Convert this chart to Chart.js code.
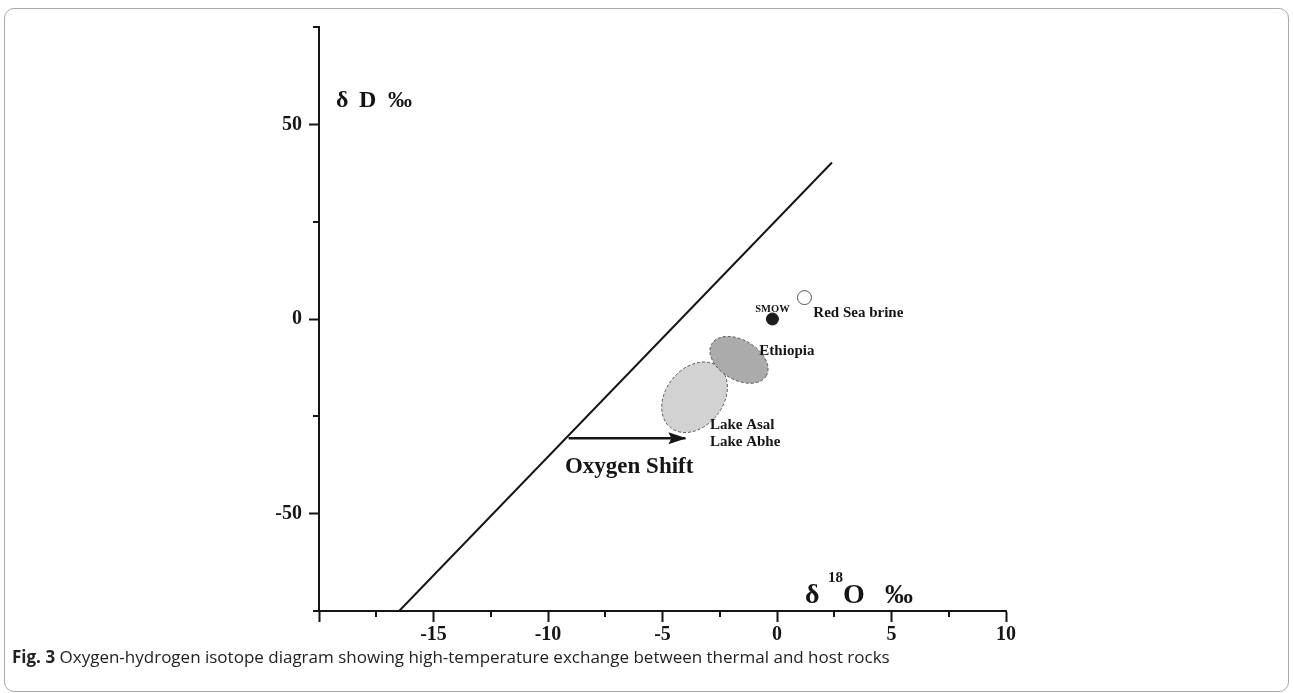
<!DOCTYPE html>
<html><head><meta charset="utf-8">
<script src="https://cdn.jsdelivr.net/npm/chart.js@4.4.0/dist/chart.umd.min.js"></script>
<style>
html,body{margin:0;padding:0;background:#fff;width:1293px;height:693px;overflow:hidden;}
#frame{position:absolute;left:4px;top:8px;width:1285px;height:684px;border:1px solid #a9a9a9;border-radius:10px;box-sizing:border-box;}
#c{position:absolute;left:0;top:0;}
#cap{position:absolute;left:12px;top:645px;font-family:'Open Sans';font-size:17px;color:#222;white-space:nowrap;}
#cap b{font-weight:700;}
</style></head><body>
<div id="frame"></div>
<canvas id="c" width="1293" height="693"></canvas>
<div id="cap"><b>Fig. 3</b> Oxygen-hydrogen isotope diagram showing high-temperature exchange between thermal and host rocks</div>
<script>
// ---- data ----
const xMajorTicks = [-20, -15, -10, -5, 0, 5, 10];
const xLabelTicks = [-15, -10, -5, 0, 5, 10];
const xMinorTicks = [-17.5, -12.5, -7.5, -2.5, 2.5, 7.5];
const yMajorTicks = [-50, 0, 50];
const yLabelTicks = [-50, 0, 50];
const yMinorTicks = [-75, -25, 25, 75];

const lineX = [-16.5, 2.4];
const lineY = [-75, 40.2];

const arrowX = [-9.1, -4.0];
const arrowY = [-30.6, -30.6];

const pointNames = ['SMOW', 'Red Sea brine'];
const pointX = [-0.2, 1.2];
const pointY = [0, 5.5];

const ellipseNames = ['Lake Asal / Lake Abhe', 'Ethiopia'];
const ellipseCX = [-3.6, -1.66];
const ellipseCY = [-20.1, -10.5];
const ellipseTipX = [-2.56, -0.47];
const ellipseTipY = [-12.25, -14.6];
const ellipseRatio = [0.74, 0.63];

const textLabels = ['SMOW', 'Red Sea brine', 'Ethiopia', 'Lake Asal', 'Lake Abhe', 'Oxygen Shift'];
const textX = [-0.2, 1.585, -0.77, -2.93, -2.93, -9.26];
const textY = [1.8, 0.64, -9.25, -28.26, -32.5, -39.5];

const SERIF = "'Liberation Serif', 'DejaVu Serif', serif";
const INK = '#151515';

const overlay = {
  id: 'overlay',
  beforeDatasetsDraw(chart) {
    const {ctx, scales: {x: xs, y: ys}} = chart;
    ctx.save();
    const fills = ['#d2d2d2', '#ababab'];
    ellipseCX.forEach((cx, i) => {
      const px = xs.getPixelForValue(cx), py = ys.getPixelForValue(ellipseCY[i]);
      const tx = xs.getPixelForValue(ellipseTipX[i]), ty = ys.getPixelForValue(ellipseTipY[i]);
      const a = Math.hypot(tx - px, ty - py), ang = Math.atan2(ty - py, tx - px);
      ctx.beginPath();
      ctx.ellipse(px, py, a, a * ellipseRatio[i], ang, 0, Math.PI * 2);
      ctx.fillStyle = fills[i];
      ctx.fill();
      ctx.setLineDash([3, 2]);
      ctx.lineWidth = 1;
      ctx.strokeStyle = '#555';
      ctx.stroke();
    });
    ctx.restore();
  },
  afterDatasetsDraw(chart) {
    const {ctx} = chart;
    const meta = chart.getDatasetMeta(1);
    const p0 = meta.data[0], p1 = meta.data[1];
    const ang = Math.atan2(p1.y - p0.y, p1.x - p0.x);
    ctx.save();
    ctx.translate(p1.x + 1, p1.y);
    ctx.rotate(ang);
    ctx.beginPath();
    ctx.moveTo(0, 0);
    ctx.lineTo(-18, -6);
    ctx.lineTo(-15, 0);
    ctx.lineTo(-18, 6);
    ctx.closePath();
    ctx.fillStyle = INK;
    ctx.fill();
    ctx.restore();
  },
  afterDraw(chart) {
    const {ctx, chartArea: ca, scales: {x: xs, y: ys}} = chart;
    ctx.save();
    ctx.strokeStyle = INK;
    ctx.lineWidth = 2;
    xMinorTicks.forEach(v => {
      const px = Math.round(xs.getPixelForValue(v));
      ctx.beginPath(); ctx.moveTo(px, ca.bottom); ctx.lineTo(px, ca.bottom + 6); ctx.stroke();
    });
    yMinorTicks.forEach(v => {
      const py = Math.round(ys.getPixelForValue(v));
      ctx.beginPath(); ctx.moveTo(ca.left, py); ctx.lineTo(ca.left - 6, py); ctx.stroke();
    });
    // annotation texts
    ctx.fillStyle = INK;
    ctx.textBaseline = 'alphabetic';
    textLabels.forEach((t, i) => {
      let size = 15, align = 'left';
      if (t === 'SMOW') { size = 10.5; align = 'center'; }
      if (t === 'Oxygen Shift') size = 23;
      ctx.font = `bold ${size}px ${SERIF}`;
      ctx.textAlign = align;
      ctx.fillText(t, xs.getPixelForValue(textX[i]), ys.getPixelForValue(textY[i]));
    });
    // axis titles
    ctx.textAlign = 'left';
    const dx = xs.getPixelForValue(-19.26), dy = ys.getPixelForValue(54.5);
    ctx.font = `bold 24px ${SERIF}`;
    ctx.fillText('δ', dx, dy);
    ctx.fillText('D', dx + 23, dy);
    ctx.fillText('‰', dx + 52, dy);
    const ox = xs.getPixelForValue(1.22), oy = ys.getPixelForValue(-72.95);
    ctx.font = `bold 28px ${SERIF}`;
    ctx.fillText('δ', ox, oy);
    ctx.fillText('O', ox + 38, oy);
    ctx.fillText('‰', ox + 80, oy);
    ctx.font = `bold 15px ${SERIF}`;
    ctx.fillText('18', ox + 23, oy - 21);
    ctx.restore();
  }
};

new Chart(document.getElementById('c'), {
  type: 'scatter',
  data: {
    datasets: [
      {label: 'line', showLine: true, data: lineX.map((x, i) => ({x, y: lineY[i]})), borderColor: INK, borderWidth: 2, pointRadius: 0, tension: 0},
      {label: 'Oxygen Shift', showLine: true, data: arrowX.map((x, i) => ({x, y: arrowY[i]})), borderColor: INK, borderWidth: 2.5, pointRadius: 0},
      {label: pointNames[0], data: [{x: pointX[0], y: pointY[0]}], pointRadius: 6, backgroundColor: '#1c1c1c', borderColor: '#1c1c1c', borderWidth: 1},
      {label: pointNames[1], data: [{x: pointX[1], y: pointY[1]}], pointRadius: 7, backgroundColor: '#ffffff', borderColor: '#555', borderWidth: 1}
    ]
  },
  options: {
    responsive: false,
    animation: false,
    devicePixelRatio: 1,
    layout: {padding: {left: 0, right: 287, top: 27, bottom: 0}},
    plugins: {legend: {display: false}, tooltip: {enabled: false}},
    scales: {
      x: {
        type: 'linear', min: -20, max: 10, position: 'bottom',
        afterBuildTicks: s => { s.ticks = xMajorTicks.map(v => ({value: v})); },
        afterFit: s => { s.height = 82; },
        ticks: {autoSkip: false, maxRotation: 0, padding: 1, color: INK,
          font: {family: SERIF, weight: 'bold', size: 20},
          callback: v => xLabelTicks.includes(v) ? String(v) : ''},
        grid: {display: true, drawOnChartArea: false, drawTicks: true, tickLength: 11, tickWidth: 2, tickColor: INK},
        border: {display: true, width: 2, color: INK}
      },
      y: {
        type: 'linear', min: -75, max: 75,
        afterBuildTicks: s => { s.ticks = yMajorTicks.map(v => ({value: v})); },
        afterFit: s => { s.width = 319; },
        ticks: {autoSkip: false, padding: 7, color: INK,
          font: {family: SERIF, weight: 'bold', size: 20},
          callback: v => yLabelTicks.includes(v) ? String(v) : ''},
        grid: {display: true, drawOnChartArea: false, drawTicks: true, tickLength: 10, tickWidth: 2, tickColor: INK},
        border: {display: true, width: 2, color: INK}
      }
    }
  },
  plugins: [overlay]
});
</script>
</body></html>
